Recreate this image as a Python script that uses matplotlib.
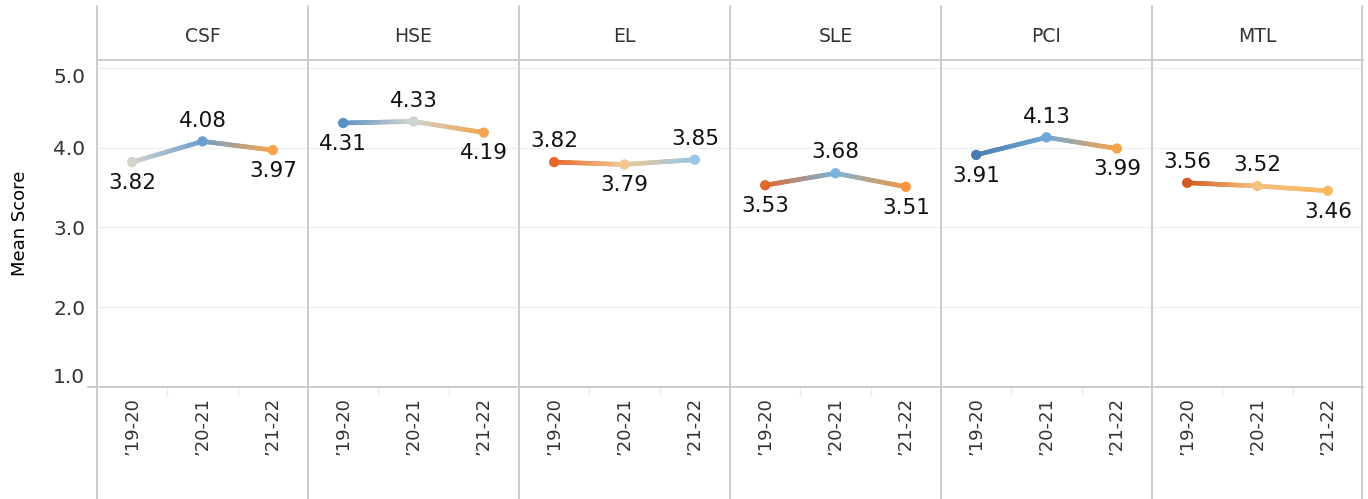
import matplotlib.pyplot as plt
import numpy as np
from matplotlib.collections import LineCollection
from matplotlib.colors import to_rgb
from matplotlib.lines import Line2D

# données
categories = ["CSF", "HSE", "EL", "SLE", "PCI", "MTL"]
years = ["\u201919-20", "\u201920-21", "\u201921-22"]
csf = [3.82, 4.08, 3.97]
hse = [4.31, 4.33, 4.19]
el = [3.82, 3.79, 3.85]
sle = [3.53, 3.68, 3.51]
pci = [3.91, 4.13, 3.99]
mtl = [3.56, 3.52, 3.46]
scores = [csf, hse, el, sle, pci, mtl]

# couleurs des points (palette orange-bleu de Tableau)
point_colors = [
    ["#d6d3c9", "#6b9fcf", "#f7a54b"],
    ["#5b8fc4", "#cfd4d0", "#f3a550"],
    ["#e3692a", "#f2c892", "#96c7e6"],
    ["#e4672a", "#7ab4dd", "#f5953f"],
    ["#4a7cb0", "#6fa7d6", "#f8a448"],
    ["#d05a1f", "#f6c07e", "#f9b864"],
]
# position des étiquettes: 1 = au-dessus, -1 = en dessous
label_side = [
    [-1, 1, -1],
    [-1, 1, -1],
    [1, -1, 1],
    [-1, 1, -1],
    [-1, 1, -1],
    [1, 1, -1],
]

W, H = 1368, 499
fig = plt.figure(figsize=(W / 100, H / 100), dpi=100)
grey = "#c8c8c8"

left, pw = 97, 211
top, bottom = 60, 387


def gradient_line(ax, x, y, colors, steps=40):
    # dégradé de couleur le long de chaque segment
    segs, cols = [], []
    for i in range(len(x) - 1):
        c0, c1 = np.array(to_rgb(colors[i])), np.array(to_rgb(colors[i + 1]))
        t = np.linspace(0, 1, steps + 1)
        xs = x[i] + (x[i + 1] - x[i]) * t
        ys = y[i] + (y[i + 1] - y[i]) * t
        for k in range(steps):
            segs.append([(xs[k], ys[k]), (xs[k + 1], ys[k + 1])])
            cols.append(c0 + (c1 - c0) * (k + 0.5) / steps)
    lc = LineCollection(segs, colors=cols, linewidths=3.3, capstyle="round", zorder=3)
    ax.add_collection(lc)


for i, cat in enumerate(categories):
    ax = fig.add_axes([(left + i * pw) / W, 1 - bottom / H, pw / W, (bottom - top) / H])
    x = np.arange(len(years))
    y = scores[i]
    gradient_line(ax, x, y, point_colors[i])
    ax.scatter(x, y, s=55, c=point_colors[i], zorder=4, linewidths=0)
    for xi, yi, side in zip(x, y, label_side[i]):
        ax.annotate(f"{yi:.2f}", (xi, yi), xytext=(0, 15 * side), textcoords="offset points",
                    ha="center", va="center", fontsize=15.5, color="#111111", zorder=5)
    ax.set_xlim(-0.5, 2.5)
    ax.set_ylim(1.0, 5.1)
    ax.set_yticks([1, 2, 3, 4, 5])
    ax.grid(axis="y", color="#f0f0f0", lw=1.0)
    ax.set_axisbelow(True)
    for s in ax.spines.values():
        s.set_visible(False)
    ax.set_xticks(x)
    ax.set_xticklabels(years, rotation=90, fontsize=13, color="#333333", va="top")
    ax.tick_params(axis="x", length=0, pad=7)
    # petits séparateurs entre les années
    for b in [0.5, 1.5]:
        ax.plot([b, b], [0, -0.028], transform=ax.get_xaxis_transform(), color="#ececec",
                lw=1, clip_on=False)
    if i == 0:
        ax.set_yticklabels(["1.0", "2.0", "3.0", "4.0", "5.0"], fontsize=14.5, color="#333333")
        ax.tick_params(axis="y", length=0, pad=8.5)
        labs = ax.get_yticklabels()
        labs[0].set_va("bottom")
        labs[-1].set_va("top")
    else:
        ax.tick_params(axis="y", length=0, labelleft=False)
    # titres des colonnes
    fig.text((left + (i + 0.5) * pw) / W, 1 - 36 / H, cat, ha="center", va="center",
             fontsize=13.5, color="#333333")

# lignes de séparation
for i in range(len(categories) + 1):
    xx = (left + i * pw - (1 if i == len(categories) else 0)) / W
    fig.add_artist(Line2D([xx, xx], [0, 1 - 6 / H], color=grey, lw=1.3))
fig.add_artist(Line2D([left / W, (left + 6 * pw) / W], [1 - top / H] * 2, color=grey, lw=1.3))
fig.add_artist(Line2D([88 / W, (left + 6 * pw) / W], [1 - bottom / H] * 2, color=grey, lw=1.3))

fig.text(20 / W, 1 - 223 / H, "Mean Score", rotation=90, ha="center", va="center",
         fontsize=13, color="black")

plt.savefig("out.png", dpi=100)
